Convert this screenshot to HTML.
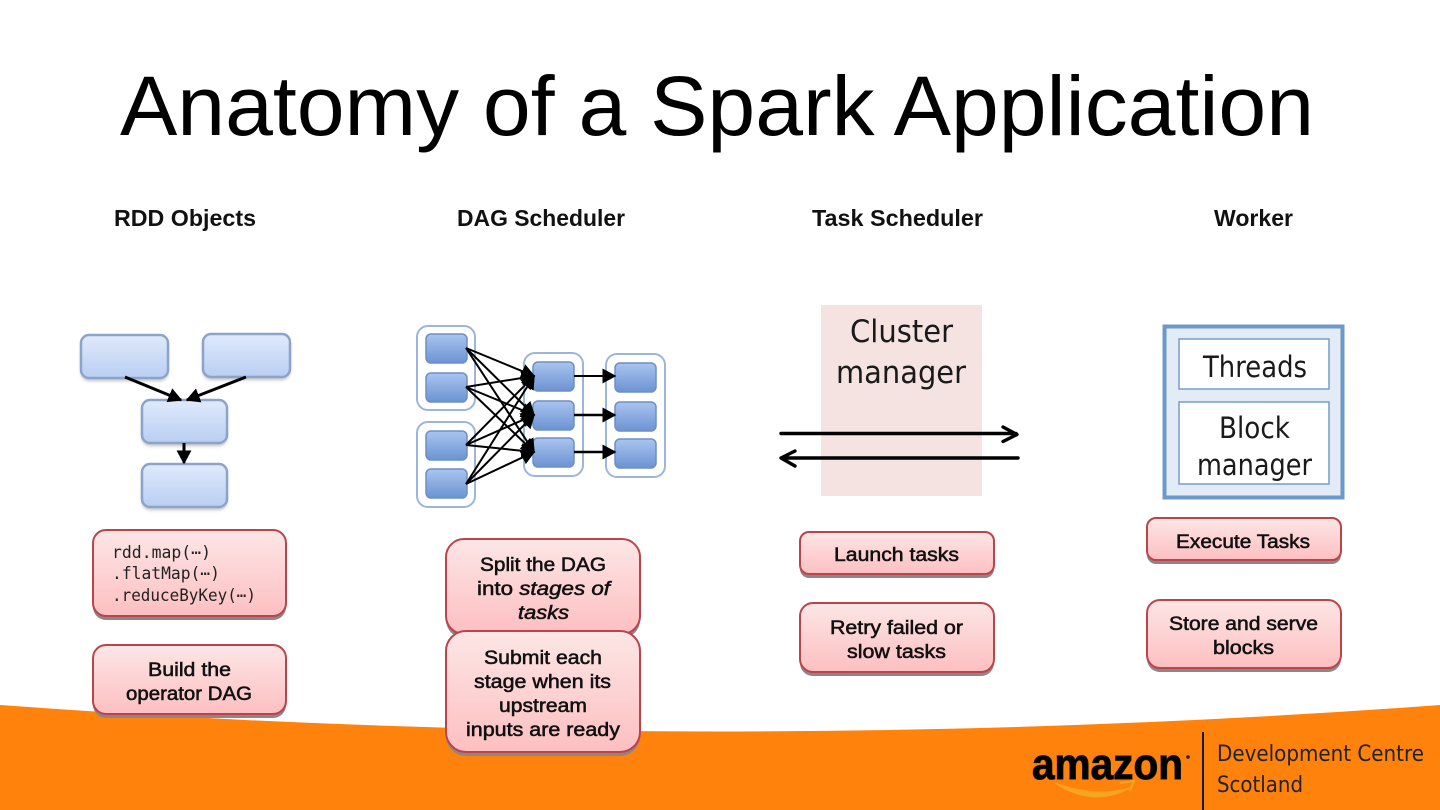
<!DOCTYPE html>
<html><head><meta charset="utf-8"><style>
html,body{margin:0;padding:0;background:#fff}
svg{display:block}
text{font-family:"Liberation Sans",sans-serif;fill:#000}
.h{font-size:23px;font-weight:bold;fill:#111}
.r{font-size:19.500px;fill:#111;stroke:#111;stroke-width:.55px}
.m{font-family:"DejaVu Sans Mono",monospace;font-size:17px;fill:#222}
.d{font-family:"DejaVu Sans",sans-serif;font-size:29px;fill:#1a1a1a}
.f{font-family:"DejaVu Sans",sans-serif;font-size:22px;fill:#222}
</style></head><body>
<svg width="1440" height="810" viewBox="0 0 1440 810" xmlns="http://www.w3.org/2000/svg">
<defs>
<linearGradient id="b" x1="0" y1="0" x2="0" y2="1"><stop offset="0" stop-color="#e0eafc"/><stop offset="1" stop-color="#b9cef2"/></linearGradient>
<linearGradient id="c" x1="0" y1="0" x2="0" y2="1"><stop offset="0" stop-color="#a9c4f0"/><stop offset="1" stop-color="#6c93d2"/></linearGradient>
<linearGradient id="p" x1="0" y1="0" x2="0" y2="1"><stop offset="0" stop-color="#fde6e6"/><stop offset="1" stop-color="#fdbfc1"/></linearGradient>
<filter id="bl" x="-10%" y="-10%" width="120%" height="130%"><feGaussianBlur stdDeviation="1.500"/></filter>
<marker id="ah2" viewBox="0 0 10 10" refX="9" refY="5" markerWidth="14" markerHeight="15" markerUnits="userSpaceOnUse" orient="auto" preserveAspectRatio="none"><path d="M0 0L10 5L0 10z" fill="#000"/></marker>
<style>.bb{fill:url(#b);stroke:#8ca4cb;stroke-width:2.500}.cc{fill:url(#c);stroke:#6f8fc0;stroke-width:1.500}.gg{fill:#fff;stroke:#9db5d8;stroke-width:2}.pp{fill:url(#p);stroke:#b9444b;stroke-width:2}.ps{fill:#8f8486}</style>
</defs>
<rect width="1440" height="810" fill="#fff"/>

<path d="M0 705Q720 758 1440 705V810H0z" fill="#fe820c"/>

<text x="120" y="135" font-size="84" textLength="1194" lengthAdjust="spacingAndGlyphs">Anatomy of a Spark Application</text>

<text class="h" x="114" y="226" textLength="142" lengthAdjust="spacingAndGlyphs">RDD Objects</text>
<text class="h" x="457" y="226" textLength="168" lengthAdjust="spacingAndGlyphs">DAG Scheduler</text>
<text class="h" x="812" y="226" textLength="171" lengthAdjust="spacingAndGlyphs">Task Scheduler</text>
<text class="h" x="1214" y="226" textLength="79" lengthAdjust="spacingAndGlyphs">Worker</text>

<!-- RDD -->
<g fill="#999" opacity=".6" filter="url(#bl)"><rect x="81" y="338" width="87" height="43" rx="8"/><rect x="203" y="337" width="87" height="43" rx="8"/><rect x="142" y="403" width="85" height="43" rx="8"/><rect x="142" y="467" width="85" height="43" rx="8"/></g>
<rect class="bb" x="81" y="335" width="87" height="43" rx="8"/>
<rect class="bb" x="203" y="334" width="87" height="43" rx="8"/>
<rect class="bb" x="142" y="400" width="85" height="43" rx="8"/>
<rect class="bb" x="142" y="464" width="85" height="43" rx="8"/>
<g stroke="#000" stroke-width="3" fill="none">
<line x1="125" y1="377" x2="181" y2="400" marker-end="url(#ah2)"/>
<line x1="246" y1="377" x2="187" y2="400" marker-end="url(#ah2)"/>
<line x1="184" y1="443" x2="184" y2="463" marker-end="url(#ah2)"/>
</g>

<!-- DAG -->
<rect class="gg" x="417" y="326" width="58" height="84" rx="11"/>
<rect class="gg" x="417" y="422" width="58" height="85" rx="11"/>
<rect class="gg" x="524" y="353" width="59" height="123" rx="11"/>
<rect class="gg" x="606" y="354" width="59" height="123" rx="11"/>
<rect class="cc" x="426" y="334" width="41" height="29" rx="5"/>
<rect class="cc" x="426" y="373" width="41" height="29" rx="5"/>
<rect class="cc" x="426" y="431" width="41" height="29" rx="5"/>
<rect class="cc" x="426" y="469" width="41" height="29" rx="5"/>
<rect class="cc" x="533" y="362" width="41" height="29" rx="5"/>
<rect class="cc" x="533" y="401" width="41" height="29" rx="5"/>
<rect class="cc" x="533" y="438" width="41" height="29" rx="5"/>
<rect class="cc" x="615" y="363" width="41" height="29" rx="5"/>
<rect class="cc" x="615" y="402" width="41" height="29" rx="5"/>
<rect class="cc" x="615" y="439" width="41" height="29" rx="5"/>
<g stroke="#000" stroke-width="2" fill="none">
<line x1="466" y1="348" x2="534" y2="376" marker-end="url(#ah2)"/>
<line x1="466" y1="348" x2="534" y2="415" marker-end="url(#ah2)"/>
<line x1="466" y1="348" x2="534" y2="452" marker-end="url(#ah2)"/>
<line x1="466" y1="387" x2="534" y2="376" marker-end="url(#ah2)"/>
<line x1="466" y1="387" x2="534" y2="415" marker-end="url(#ah2)"/>
<line x1="466" y1="387" x2="534" y2="452" marker-end="url(#ah2)"/>
<line x1="466" y1="445" x2="534" y2="376" marker-end="url(#ah2)"/>
<line x1="466" y1="445" x2="534" y2="415" marker-end="url(#ah2)"/>
<line x1="466" y1="445" x2="534" y2="452" marker-end="url(#ah2)"/>
<line x1="466" y1="484" x2="534" y2="376" marker-end="url(#ah2)"/>
<line x1="466" y1="484" x2="534" y2="415" marker-end="url(#ah2)"/>
<line x1="466" y1="484" x2="534" y2="452" marker-end="url(#ah2)"/>
<line x1="574" y1="376" x2="615" y2="376" marker-end="url(#ah2)"/>
<line x1="574" y1="415" x2="615" y2="415" stroke-width="2.400" marker-end="url(#ah2)"/>
<line x1="574" y1="452" x2="615" y2="452" stroke-width="2.400" marker-end="url(#ah2)"/>
</g>

<!-- Cluster -->
<rect x="821" y="305" width="161" height="191" fill="#f4e3e1"/>
<text x="850" y="342" class="d" style="font-size:31px" textLength="103" lengthAdjust="spacingAndGlyphs">Cluster</text>
<text x="836" y="383" class="d" style="font-size:31px" textLength="130" lengthAdjust="spacingAndGlyphs">manager</text>
<g stroke="#000" stroke-width="3.400" fill="none" stroke-linecap="round" stroke-linejoin="round">
<path d="M781 433.500H1016M1003 427L1017 434.500L1003 441.500"/>
<path d="M1018 458H782M795 451L781 458L795 466"/>
</g>

<!-- Worker -->
<rect x="1164.500" y="326.500" width="178" height="171" fill="#e2ebf6" stroke="#6c9ac8" stroke-width="4"/>
<rect x="1179" y="339" width="150" height="50" fill="#fff" stroke="#7ba3cc" stroke-width="1.600"/>
<rect x="1179" y="402" width="150" height="82" fill="#fff" stroke="#7ba3cc" stroke-width="1.600"/>
<text class="d" x="1203" y="377" textLength="104" lengthAdjust="spacingAndGlyphs">Threads</text>
<text class="d" x="1219" y="438" textLength="71" lengthAdjust="spacingAndGlyphs">Block</text>
<text class="d" x="1197" y="475" textLength="115" lengthAdjust="spacingAndGlyphs">manager</text>

<!-- Red boxes -->
<rect class="ps" x="93" y="534" width="193" height="86" rx="13"/><rect class="pp" x="93" y="530" width="193" height="86" rx="13"/>
<text class="m" x="112" y="558" textLength="99" lengthAdjust="spacingAndGlyphs">rdd.map(⋯)</text>
<text class="m" x="112" y="579" textLength="108" lengthAdjust="spacingAndGlyphs">.flatMap(⋯)</text>
<text class="m" x="112" y="601" textLength="144" lengthAdjust="spacingAndGlyphs">.reduceByKey(⋯)</text>

<rect class="ps" x="93" y="649" width="193" height="69" rx="13"/><rect class="pp" x="93" y="645" width="193" height="69" rx="13"/>
<text class="r" x="148" y="676" textLength="83" lengthAdjust="spacingAndGlyphs">Build the</text>
<text class="r" x="126" y="700" textLength="126" lengthAdjust="spacingAndGlyphs">operator DAG</text>

<rect class="ps" x="446" y="543" width="194" height="95" rx="18"/><rect class="pp" x="446" y="539" width="194" height="95" rx="18"/>
<text class="r" x="480" y="571" textLength="126" lengthAdjust="spacingAndGlyphs">Split the DAG</text>
<text class="r" x="477" y="595" textLength="133" lengthAdjust="spacingAndGlyphs">into <tspan font-style="italic">stages of</tspan></text>
<text class="r" x="518" y="619" font-style="italic" textLength="51" lengthAdjust="spacingAndGlyphs">tasks</text>

<rect class="ps" x="446" y="635" width="194" height="121" rx="20"/><rect class="pp" x="446" y="631" width="194" height="121" rx="20"/>
<text class="r" x="484" y="664" textLength="118" lengthAdjust="spacingAndGlyphs">Submit each</text>
<text class="r" x="474" y="688" textLength="137" lengthAdjust="spacingAndGlyphs">stage when its</text>
<text class="r" x="499" y="712" textLength="88" lengthAdjust="spacingAndGlyphs">upstream</text>
<text class="r" x="466" y="736" textLength="154" lengthAdjust="spacingAndGlyphs">inputs are ready</text>

<rect class="ps" x="800" y="536" width="194" height="42" rx="9"/><rect class="pp" x="800" y="532" width="194" height="42" rx="9"/>
<text class="r" x="834" y="561" textLength="125" lengthAdjust="spacingAndGlyphs">Launch tasks</text>

<rect class="ps" x="800" y="607" width="194" height="69" rx="13"/><rect class="pp" x="800" y="603" width="194" height="69" rx="13"/>
<text class="r" x="830" y="634" textLength="133" lengthAdjust="spacingAndGlyphs">Retry failed or</text>
<text class="r" x="847" y="658" textLength="99" lengthAdjust="spacingAndGlyphs">slow tasks</text>

<rect class="ps" x="1147" y="522" width="194" height="42" rx="9"/><rect class="pp" x="1147" y="518" width="194" height="42" rx="9"/>
<text class="r" x="1176" y="548" textLength="134" lengthAdjust="spacingAndGlyphs">Execute Tasks</text>

<rect class="ps" x="1147" y="604" width="194" height="68" rx="13"/><rect class="pp" x="1147" y="600" width="194" height="68" rx="13"/>
<text class="r" x="1169" y="630" textLength="149" lengthAdjust="spacingAndGlyphs">Store and serve</text>
<text class="r" x="1213" y="654" textLength="61" lengthAdjust="spacingAndGlyphs">blocks</text>

<!-- Footer logo -->
<text x="1032" y="779" font-size="44" font-weight="bold" fill="#111" stroke="#111" stroke-width="1" textLength="151" lengthAdjust="spacingAndGlyphs">amazon</text>
<circle cx="1188" cy="757" r="1.800" fill="#222"/>
<path d="M1055 783Q1092 808 1130 788Q1096 798 1055 783z" fill="#f7a51f" stroke="#f7a51f" stroke-width="1"/>
<path d="M1120 783L1134 781L1130 791" fill="none" stroke="#f7a51f" stroke-width="2"/>
<rect x="1202" y="732" width="2" height="78" fill="#1a1a1a"/>
<text class="f" x="1217" y="761" textLength="207" lengthAdjust="spacingAndGlyphs">Development Centre</text>
<text class="f" x="1217" y="792" textLength="86" lengthAdjust="spacingAndGlyphs">Scotland</text>
</svg>
</body></html>
